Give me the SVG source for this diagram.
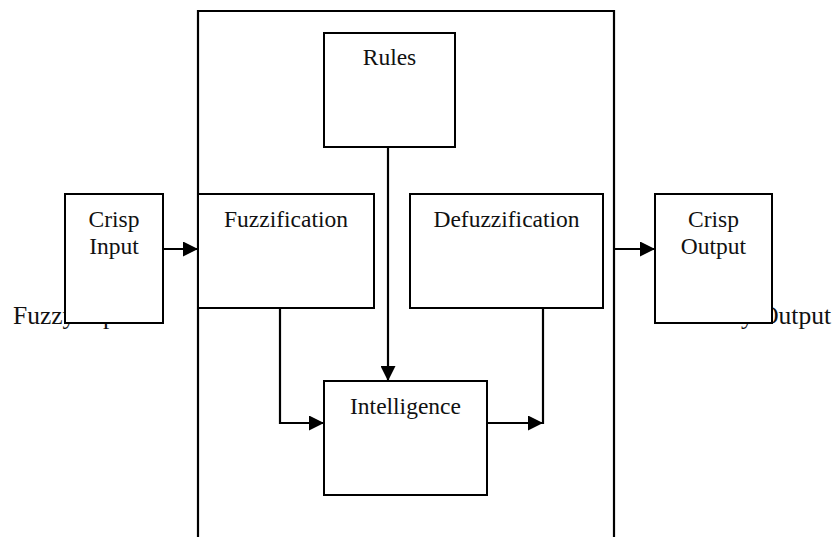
<svg xmlns="http://www.w3.org/2000/svg" width="834" height="537" viewBox="0 0 834 537">
  <style>
    .box { fill: #ffffff; stroke: #000000; stroke-width: 2; }
    .frame { fill: none; stroke: #000000; stroke-width: 2.2; }
    .lbl { font-family: "Liberation Serif", "Times New Roman", serif; font-size: 23.5px; fill: #111111; text-anchor: middle; }
    .side { font-family: "Liberation Serif", "Times New Roman", serif; font-size: 25.5px; fill: #111111; }
    .wire { fill: none; stroke: #000000; stroke-width: 2.2; }
  </style>
  <defs>
    <marker id="arrow" viewBox="0 0 15 15" refX="15" refY="7.5" markerWidth="15" markerHeight="15" markerUnits="userSpaceOnUse" orient="auto">
      <path d="M0,0 L15,7.5 L0,15 Z" fill="#000000"/>
    </marker>
  </defs>
  <rect width="834" height="537" fill="#ffffff"/>

  <!-- side labels, partly hidden behind the crisp boxes -->
  <text class="side" x="13" y="324">Fuzzy Input</text>
  <text class="side" x="831" y="324" text-anchor="end">Fuzzy Output</text>

  <!-- system frame, open at the bottom -->
  <path class="frame" d="M198,537 L198,11 L614,11 L614,537"/>

  <g id="crisp-input">
    <rect class="box" x="65" y="194" width="98" height="129"/>
    <text class="lbl" x="114" y="227">Crisp</text>
    <text class="lbl" x="114" y="254">Input</text>
  </g>

  <g id="fuzzification">
    <rect class="box" x="198" y="194" width="176" height="114"/>
    <text class="lbl" x="286" y="227">Fuzzification</text>
  </g>

  <g id="rules">
    <rect class="box" x="324" y="33" width="131" height="114"/>
    <text class="lbl" x="389.5" y="65">Rules</text>
  </g>

  <g id="defuzzification">
    <rect class="box" x="410" y="194" width="193" height="114"/>
    <text class="lbl" x="506.5" y="227">Defuzzification</text>
  </g>

  <g id="intelligence">
    <rect class="box" x="324" y="381" width="163" height="114"/>
    <text class="lbl" x="405.5" y="414">Intelligence</text>
  </g>

  <g id="crisp-output">
    <rect class="box" x="655" y="194" width="117" height="129"/>
    <text class="lbl" x="713.5" y="227">Crisp</text>
    <text class="lbl" x="713.5" y="254">Output</text>
  </g>

  <g id="connectors">
    <path class="wire" d="M163,249 L198,249" marker-end="url(#arrow)"/>
    <path class="wire" d="M614,249 L655,249" marker-end="url(#arrow)"/>
    <path class="wire" d="M388,147 L388,381" marker-end="url(#arrow)"/>
    <path class="wire" stroke-width="2.6" d="M280,308 L280,423 L324,423" marker-end="url(#arrow)"/>
    <path class="wire" d="M487,423 L543,423" marker-end="url(#arrow)"/>
    <path class="wire" stroke-width="2.6" d="M543,308 L543,424"/>
  </g>
</svg>
